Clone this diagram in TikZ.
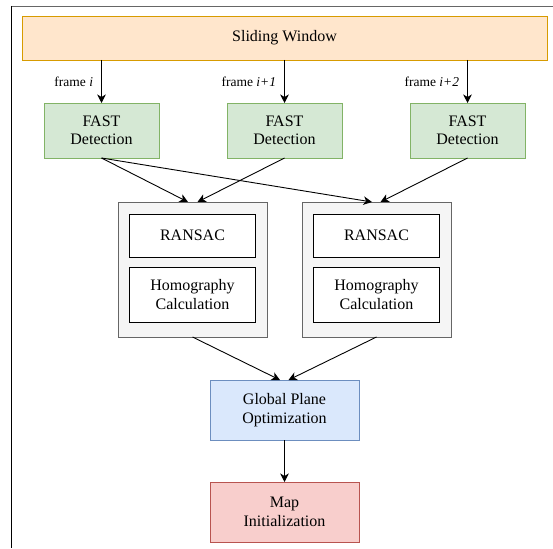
\documentclass[tikz,border=0pt]{standalone}
\usepackage{fontspec}
\setmainfont{Liberation Serif}
\usetikzlibrary{positioning,arrows.meta}

\definecolor{winfill}{HTML}{FFE6CC}
\definecolor{windraw}{HTML}{D79B00}
\definecolor{fastfill}{HTML}{D5E8D4}
\definecolor{fastdraw}{HTML}{82B366}
\definecolor{contfill}{HTML}{F5F5F5}
\definecolor{contdraw}{HTML}{666666}
\definecolor{optfill}{HTML}{DAE8FC}
\definecolor{optdraw}{HTML}{6C8EBF}
\definecolor{mapfill}{HTML}{F8CECC}
\definecolor{mapdraw}{HTML}{B85450}

\begin{document}
\begin{tikzpicture}[x=1pt,y=-1pt,line width=0.9pt,
  box/.style={draw,align=center,inner sep=2pt,outer sep=0pt,font=\fontsize{16}{18.5}\selectfont},
  window/.style={box,fill=winfill,draw=windraw,minimum width=525pt,minimum height=44pt},
  fast/.style={box,fill=fastfill,draw=fastdraw,minimum width=115pt,minimum height=55pt},
  cont/.style={box,fill=contfill,draw=contdraw,minimum width=149pt,minimum height=135pt},
  ransac/.style={box,fill=white,draw=black,minimum width=126pt,minimum height=43pt},
  homog/.style={box,fill=white,draw=black,minimum width=126pt,minimum height=55pt},
  optim/.style={box,fill=optfill,draw=optdraw,minimum width=149pt,minimum height=60pt},
  mapinit/.style={box,fill=mapfill,draw=mapdraw,minimum width=149pt,minimum height=60pt},
  arr/.style={-{Stealth[length=8.5pt,width=8.5pt,inset=2.5pt]}},
  lbl/.style={font=\fontsize{13.5}{16}\selectfont,inner sep=0pt}]

\useasboundingbox (0,0) rectangle (553,548);
\draw[contdraw] (11,6) -- (553,6);
\draw[black] (11,6) -- (11,548);

\node[window](win) at (284.5,38){Sliding Window};
\node[fast](fast2)[below=43pt of win]{FAST\\Detection};
\node[fast](fast1)[left=68pt of fast2]{FAST\\Detection};
\node[fast](fast3)[right=68pt of fast2]{FAST\\Detection};

\node[cont](cont1)[below left=44pt and 17.5pt of fast2.south]{};
\node[cont](cont2)[below right=44pt and 17.5pt of fast2.south]{};
\node[ransac](ransac1)[below=12pt of cont1.north]{RANSAC};
\node[homog](homog1)[below=10pt of ransac1]{Homography\\Calculation};
\node[ransac](ransac2)[below=12pt of cont2.north]{RANSAC};
\node[homog](homog2)[below=10pt of ransac2]{Homography\\Calculation};

\node[optim](opt)[below=222pt of fast2]{Global Plane\\Optimization};
\node[mapinit](map)[below=42pt of opt]{Map\\Initialization};

\draw[arr](win.south -| fast1.north) -- node[lbl,left,xshift=-8pt]{frame \textit{i}}(fast1.north);
\draw[arr](win.south -| fast2.north) -- node[lbl,left,xshift=-8pt]{frame \textit{i+1}}(fast2.north);
\draw[arr](win.south -| fast3.north) -- node[lbl,left,xshift=-8pt]{frame \textit{i+2}}(fast3.north);

\draw[arr](fast1.south) -- ([xshift=-4.5pt]cont1.north);
\draw[arr](fast2.south) -- ([xshift=5pt]cont1.north);
\draw[arr](fast1.south) -- ([xshift=-4.5pt]cont2.north);
\draw[arr](fast3.south) -- ([xshift=4pt]cont2.north);

\draw[arr](cont1.south) -- ([xshift=-4.5pt]opt.north);
\draw[arr](cont2.south) -- ([xshift=4pt]opt.north);
\draw[arr](opt.south) -- (map.north);

\end{tikzpicture}
\end{document}
